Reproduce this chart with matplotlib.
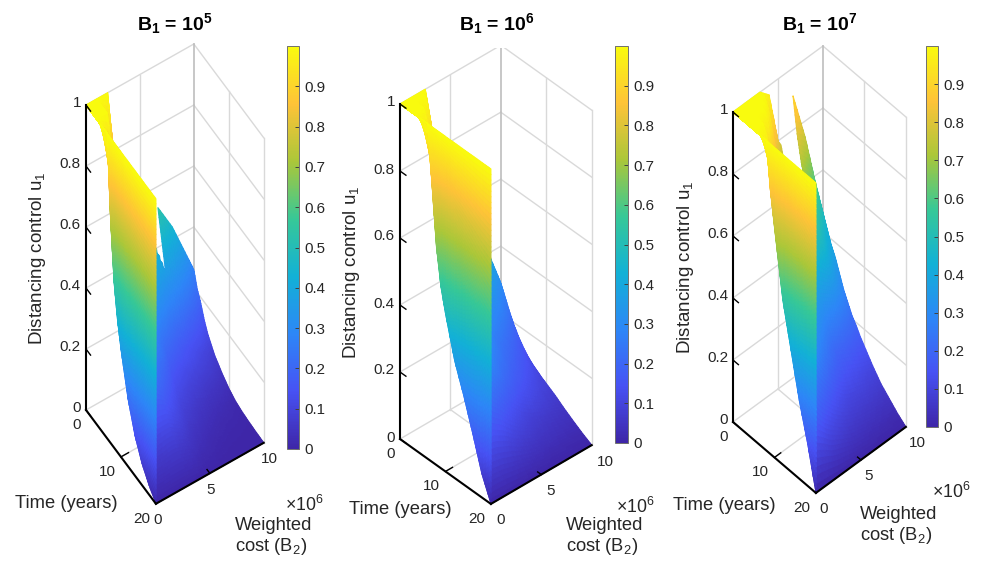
import numpy as np
import matplotlib
matplotlib.use('Agg')
import matplotlib.pyplot as plt
from matplotlib.colors import LinearSegmentedColormap, Normalize
from matplotlib.cm import ScalarMappable
from matplotlib.path import Path
from mpl_toolkits.mplot3d import proj3d
from mpl_toolkits.mplot3d.art3d import Poly3DCollection

plt.rcParams['font.family'] = ['Liberation Sans', 'DejaVu Sans']
plt.rcParams['mathtext.fontset'] = 'custom'
plt.rcParams['mathtext.rm'] = 'Liberation Sans'
plt.rcParams['mathtext.bf'] = 'Liberation Sans:bold'
plt.rcParams['mathtext.default'] = 'regular'

# values
time_years = [0, 1, 2, 3, 4, 5, 6, 7, 8, 9, 10, 12, 14, 16, 18, 20]
cost_b2 = [0, 0.02, 1, 2, 2.5, 3, 4, 5, 6, 6.67, 8, 9, 10]  # x 10^6

u_b1_1e5 = [
    [1, 1, 1, 1, .80, .76, .69, .62, .56, .53, .44, .35, .26],
    [1, 1, 1, .88, .76, .70, .62, .54, .48, .45, .37, .29, .21],
    [1, 1, 1, .80, .70, .64, .55, .47, .41, .37, .30, .24, .18],
    [1, 1, 1, .72, .63, .57, .49, .41, .34, .31, .25, .20, .14],
    [1, 1, .85, .65, .57, .51, .43, .35, .29, .26, .20, .16, .11],
    [1, 1, .72, .58, .51, .45, .37, .30, .24, .21, .16, .13, .09],
    [1, 1, .62, .52, .46, .40, .32, .25, .20, .17, .13, .10, .07],
    [1, .73, .55, .47, .41, .36, .28, .21, .17, .15, .11, .085, .058],
    [1, .54, .49, .42, .37, .32, .26, .18, .14, .12, .09, .07, .045],
    [1, .43, .42, .37, .33, .28, .22, .15, .12, .10, .07, .055, .035],
    [1, .35, .34, .33, .30, .25, .19, .13, .10, .08, .055, .042, .025],
    [1, .22, .22, .22, .21, .19, .14, .09, .065, .05, .03, .022, .012],
    [1, .13, .12, .13, .13, .13, .10, .06, .04, .03, .015, .012, .006],
    [1, .07, .065, .07, .075, .075, .06, .035, .022, .015, .008, .006, .003],
    [1, .03, .03, .035, .035, .035, .03, .015, .01, .006, .003, .002, .001],
    [1, 0, 0, 0, 0, 0, 0, 0, 0, 0, 0, 0, 0],
]
u_b1_1e6 = [
    [1, 1, 1, 1, 1, .885, .78, .68, .60, .55, .46, .38, .29],
    [1, 1, 1, 1, .93, .82, .71, .62, .54, .49, .40, .33, .255],
    [1, 1, 1, .95, .86, .75, .65, .56, .48, .43, .35, .28, .22],
    [1, 1, 1, .87, .79, .69, .59, .50, .42, .38, .31, .25, .19],
    [1, 1, .93, .79, .72, .63, .53, .45, .37, .33, .27, .22, .165],
    [1, 1, .83, .72, .66, .58, .48, .40, .33, .30, .24, .19, .145],
    [1, 1, .75, .66, .60, .53, .44, .36, .30, .27, .21, .17, .128],
    [1, .83, .68, .60, .55, .49, .40, .33, .27, .24, .19, .155, .115],
    [1, .65, .62, .55, .50, .45, .37, .30, .25, .22, .17, .14, .105],
    [1, .54, .54, .50, .46, .42, .34, .28, .23, .20, .155, .125, .095],
    [1, .47, .47, .45, .42, .38, .31, .25, .21, .18, .14, .11, .087],
    [1, .35, .35, .34, .32, .30, .25, .20, .16, .14, .105, .085, .07],
    [1, .265, .26, .25, .23, .21, .17, .13, .10, .085, .07, .06, .05],
    [1, .17, .16, .15, .14, .13, .10, .08, .065, .055, .045, .038, .032],
    [1, .07, .07, .065, .06, .055, .045, .035, .03, .025, .02, .017, .015],
    [1, 0, 0, 0, 0, 0, 0, 0, 0, 0, 0, 0, 0],
]
u_b1_1e7 = [
    [1, 1, 1, 1, 1, 1, .97, .80, .74, .91, .75, .60, .46],
    [1, 1, 1, 1, 1, 1, .86, .74, .68, .80, .66, .53, .42],
    [1, 1, 1, 1, 1, .97, .79, .68, .62, .72, .58, .47, .38],
    [1, 1, 1, 1, .97, .88, .73, .63, .57, .66, .52, .42, .35],
    [1, 1, 1, .97, .88, .80, .67, .58, .53, .60, .47, .38, .31],
    [1, 1, 1, .87, .79, .72, .61, .53, .48, .50, .42, .34, .27],
    [1, 1, .97, .78, .71, .65, .55, .48, .42, .40, .36, .30, .24],
    [1, 1, .87, .70, .64, .58, .50, .42, .36, .33, .30, .26, .21],
    [1, 1, .78, .64, .58, .53, .45, .37, .31, .28, .25, .22, .19],
    [1, .85, .71, .58, .53, .48, .40, .33, .27, .24, .21, .19, .165],
    [1, .74, .64, .53, .48, .44, .36, .29, .23, .20, .18, .16, .145],
    [1, .53, .50, .42, .38, .34, .27, .21, .17, .15, .13, .115, .105],
    [1, .39, .37, .30, .26, .23, .18, .14, .11, .10, .09, .08, .07],
    [1, .25, .24, .19, .165, .145, .11, .085, .07, .065, .055, .05, .045],
    [1, .135, .12, .095, .08, .07, .055, .04, .035, .03, .025, .02, .02],
    [1, 0, 0, 0, 0, 0, 0, 0, 0, 0, 0, 0, 0],
]
surfaces = [u_b1_1e5, u_b1_1e6, u_b1_1e7]

# gaps in the surface, (time, cost) corners
gap_1e5 = [(-0.1, 6.67), (0, 6.67), (2.2, 6.65), (1.7, 5.9), (0.8, 3.5), (-0.1, 3.5)]
gap_1e7 = [(-0.1, 6.67), (3.5, 6.67), (3.5, 5.3), (-0.1, 5.3)]
gaps = [gap_1e5, None, gap_1e7]

titles = ['B$_1$ = 10$^5$', 'B$_1$ = 10$^6$', 'B$_1$ = 10$^7$']
z_ticks = [0, 0.2, 0.4, 0.6, 0.8, 1]
z_labels = ['0', '0.2', '0.4', '0.6', '0.8', '1']
t_ticks = [0, 10, 20]
b_ticks = [0, 5, 10]
cbar_ticks = [0, .1, .2, .3, .4, .5, .6, .7, .8, .9]
cbar_labels = ['0', '0.1', '0.2', '0.3', '0.4', '0.5', '0.6', '0.7', '0.8', '0.9']

parula_stops = ['#3e26a8', '#4752f4', '#2d87f7', '#12b1d6', '#37c897', '#abc739', '#fec338', '#f9fb0e']
parula = LinearSegmentedColormap.from_list('parula', parula_stops, N=256)

# layout in pixels of the reference
elev = [60.6, 40.2, 52.4]
azim = [-33.0, -42.1, -42.8]
box = [(128.5, 128.7, 622), (135.7, 136, 439), (122, 122.6, 508)]
left_top = [(86, 105), (400, 104), (733, 112)]
left_bottom = [(86, 410), (400, 439), (733, 422)]
title_xy = [(175, 30), (496.5, 30), (819.5, 30)]
ylabel_xy = [(38, 258), (352, 272), (685, 267)]
time_xy = [(15, 504), (349, 510), (673, 506)]
exp_xy = [(285, 505), (616, 507), (932, 492)]
cost_xy = [(235, 537), (566, 537), (860, 526)]
cbar_box = [(287, 46, 299, 449), (615, 46, 628, 443), (926, 46, 938, 427)]
b_dx = [-3, 5, 3]

W, H = 982, 563
fig = plt.figure(figsize=(W / 100, H / 100), dpi=100)
norm = Normalize(0, 1)
text_col = '#262626'
grid_col = '#d9d9d9'


def px(x, y):
    return x / W, 1 - y / H


def fine_axis(vals, n):
    idx = np.linspace(0, len(vals) - 1, (len(vals) - 1) * n + 1)
    return idx, np.interp(idx, np.arange(len(vals)), vals)


def add_mesh(ax, tt, bb, zz, zorder, gap=None):
    T, B = np.meshgrid(tt, bb, indexing='ij')
    verts = np.stack([
        np.stack([T[:-1, :-1], B[:-1, :-1], zz[:-1, :-1]], -1),
        np.stack([T[1:, :-1], B[1:, :-1], zz[1:, :-1]], -1),
        np.stack([T[1:, 1:], B[1:, 1:], zz[1:, 1:]], -1),
        np.stack([T[:-1, 1:], B[:-1, 1:], zz[:-1, 1:]], -1),
    ], axis=2).reshape(-1, 4, 3)
    if gap is not None:
        centre = verts[:, :, :2].mean(axis=1)
        verts = verts[~Path(gap).contains_points(centre)]
    pc = Poly3DCollection(list(verts), cmap=parula, norm=norm, linewidths=0.8, zorder=zorder)
    pc.set_array(verts[:, :, 2].mean(axis=1))
    ax.add_collection3d(pc, autolim=False)
    pc.set_edgecolor('face')


def draw_panel(i):
    ax = fig.add_axes([0, 0, 400 / W, 400 / H], projection='3d', computed_zorder=False)
    ax.set_proj_type('ortho')
    ax.view_init(elev=elev[i], azim=azim[i])
    ax.set_box_aspect(box[i])
    ax.set_axis_off()
    ax.patch.set_visible(False)
    ax.set_xlim(0, 20, view_margin=0)
    ax.set_ylim(0, 10, view_margin=0)
    ax.set_zlim(0, 1, view_margin=0)

    # back walls and floor
    for z in z_ticks:
        ax.plot([0, 0], [0, 10], [z, z], color=grid_col, lw=1, zorder=1)
        ax.plot([0, 20], [10, 10], [z, z], color=grid_col, lw=1, zorder=1)
    for b in [5]:
        ax.plot([0, 0], [b, b], [0, 1], color=grid_col, lw=1, zorder=1)
        ax.plot([0, 20], [b, b], [0, 0], color=grid_col, lw=1, zorder=1)
    ax.plot([0, 0], [10, 10], [0, 1], color='#bdbdbd', lw=1.2, zorder=1)
    ax.plot([10, 10], [10, 10], [0, 1], color=grid_col, lw=1, zorder=1)
    ax.plot([20, 20], [10, 10], [0, 1], color=grid_col, lw=1, zorder=1)
    ax.plot([10, 10], [0, 10], [0, 0], color=grid_col, lw=1, zorder=1)

    # surface: cells are subdivided only to shade them smoothly
    u = np.array(surfaces[i], dtype=float)
    t_idx, t_fine = fine_axis(time_years, 6)
    b_idx, b_fine = fine_axis(cost_b2[1:], 6)
    by_b = np.array([np.interp(t_idx, np.arange(len(time_years)), u[:, j]) for j in range(u.shape[1])]).T
    sheet = np.array([np.interp(b_idx, np.arange(len(cost_b2) - 1), row[1:]) for row in by_b])
    add_mesh(ax, t_fine, b_fine, sheet, 2, gaps[i])

    frac = np.linspace(0, 1, 61)
    wall = np.outer(by_b[:, 0], 1 - frac) + np.outer(by_b[:, 1], frac)
    add_mesh(ax, t_fine, cost_b2[0] + frac * cost_b2[1], wall, 3)

    # box edges and ticks
    ax.plot([0, 0], [0, 0], [0, 1], color='k', lw=1.5, zorder=5)
    ax.plot([0, 20], [0, 0], [0, 0], color='k', lw=1.5, zorder=5)
    ax.plot([20, 20], [0, 10], [0, 0], color='k', lw=1.5, zorder=5)
    for z in z_ticks:
        ax.plot([0, 1.3], [0, 0], [z, z], color='k', lw=1, zorder=5)
    ax.plot([10, 10], [0, 0.7], [0, 0], color='k', lw=1, zorder=5)
    ax.plot([20, 19.2], [5, 5], [0, 0], color='k', lw=1, zorder=5)

    ax.set_xlim(0, 20, view_margin=0)
    ax.set_ylim(0, 10, view_margin=0)
    ax.set_zlim(0, 1, view_margin=0)

    # put the box where the reference has it
    ax.apply_aspect()
    M = ax.get_proj()

    def screen(t, b, z):
        x, y, _ = proj3d.proj_transform(t, b, z, M)
        return ax.transData.transform((x, y))

    top = screen(0, 0, 1)
    bottom = screen(0, 0, 0)
    scale = (left_bottom[i][1] - left_top[i][1]) / (top[1] - bottom[1])
    size = 400 * scale
    x0 = left_bottom[i][0] - bottom[0] * scale
    y0 = (H - left_bottom[i][1]) - bottom[1] * scale
    ax.set_position([x0 / W, y0 / H, size / W, size / H])
    ax.apply_aspect()

    # tick labels, offset from their tick in pixels
    def tick_text(t, b, z, s, dx, dy, ha):
        sx, sy = screen(t, b, z)
        fig.text((sx + dx) / W, (sy + dy) / H, s, ha=ha, va='center', fontsize=11, color=text_col)

    for z, s in zip(z_ticks, z_labels):
        tick_text(0, 0, z, s, -5, 1.5, 'right')
    for t in t_ticks:
        tick_text(t, 0, 0, str(t), -5.5, -15, 'right')
    for b in b_ticks:
        tick_text(20, b, 0, str(b), b_dx[i], -16.5, 'left')

    # text around the box
    fig.text(*px(*title_xy[i]), titles[i], ha='center', va='baseline', fontsize=14, fontweight='bold', color='k')
    fig.text(*px(*ylabel_xy[i]), 'Distancing control u$_1$', rotation=90, ha='center', va='center',
             fontsize=13.5, color=text_col)
    fig.text(*px(*time_xy[i]), 'Time (years)', ha='left', va='center', fontsize=13.2, color=text_col)
    fig.text(*px(*exp_xy[i]), '$\\times$10$^6$', ha='left', va='center', fontsize=12.8, color=text_col)
    fig.text(*px(*cost_xy[i]), 'Weighted\ncost (B$_2$)', ha='left', va='center', fontsize=13.2,
             linespacing=1.15, color=text_col)

    # colorbar
    x1, y1, x2, y2 = cbar_box[i]
    cax = fig.add_axes([x1 / W, 1 - y2 / H, (x2 - x1) / W, (y2 - y1) / H])
    cb = fig.colorbar(ScalarMappable(norm=norm, cmap=parula), cax=cax)
    cb.set_ticks(cbar_ticks, labels=cbar_labels)
    cb.ax.tick_params(direction='in', length=3, width=0.7, color='#404040', labelsize=10.8,
                      labelcolor=text_col, pad=4)
    cb.outline.set_edgecolor('#707070')
    cb.outline.set_linewidth(0.7)


for i in range(3):
    draw_panel(i)

fig.savefig('out.png', dpi=100)
